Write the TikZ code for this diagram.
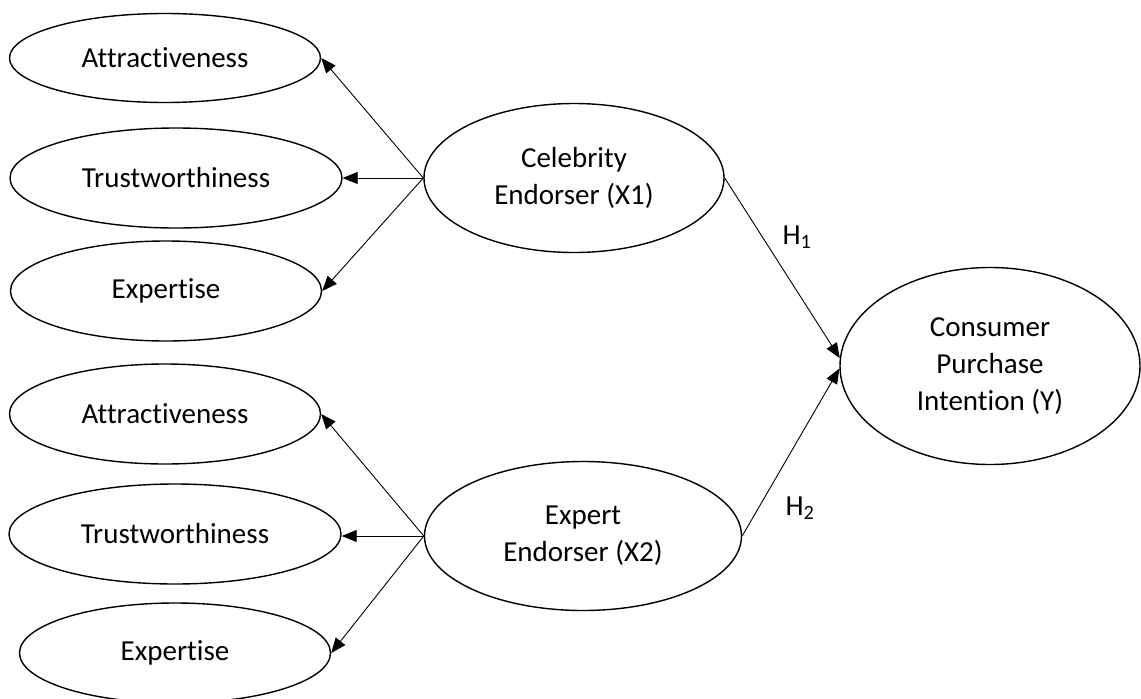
\documentclass[tikz,border=0pt]{standalone}
\usepackage{fontspec}
\setmainfont{Carlito}[Ligatures=NoCommon]
\usepackage{tikz}
\usetikzlibrary{shapes.geometric,arrows.meta}
\tikzstyle{e}=[line width=0.9pt,arrows={-Triangle[length=15pt,width=12pt]}]
\tikzstyle{n}=[ellipse,draw=black,line width=1.4pt,inner sep=0pt,align=center,font=\fontsize{29}{37}\selectfont]
\tikzstyle{item}=[n,minimum width=311pt,minimum height=100pt]
\tikzstyle{item-wide}=[n,minimum width=332pt,minimum height=100pt]
\tikzstyle{latent}=[n,minimum width=300pt,minimum height=149pt]
\tikzstyle{h}=[font=\fontsize{29}{37}\selectfont]

\begin{document}
\begin{tikzpicture}[x=1pt,y=-1pt]
\useasboundingbox (0,0) rectangle (1141,699);

% Nodes
\node[item,minimum height=89pt] (attractiveness 1)  at (165,58)  {Attractiveness};
\node[item-wide]                (trustworthiness 1) at (176,178) {Trustworthiness};
\node[item]                     (expertise 1)       at (166,291) {Expertise};
\node[item]                     (attractiveness 2)  at (165,414) {Attractiveness};
\node[item-wide]                (trustworthiness 2) at (175,534) {Trustworthiness};
\node[item]                     (expertise 2)       at (175,653) {Expertise};
\node[latent]                   (celebrity)         at (574,178) {Celebrity\\Endorser (X1)};
\node[latent,minimum width=317pt] (expert)          at (583,536) {Expert\\Endorser (X2)};
\node[latent,minimum height=197pt] (intention)      at (990,366) {Consumer\\Purchase\\Intention (Y)};
\node[h]                        (h1)                at (797,237) {H\textsubscript{1}};
\node[h]                        (h2)                at (800,508) {H\textsubscript{2}};

% Edges
\draw (celebrity.west) edge[e] (attractiveness 1.east)
      (celebrity.west) edge[e] (celebrity.west -| trustworthiness 1.east)
      (celebrity.west) edge[e] (expertise 1.east)
      (expert.west)    edge[e] (attractiveness 2.east)
      (expert.west)    edge[e] (expert.west -| trustworthiness 2.east)
      (expert.west)    edge[e] (expertise 2.east)
      (celebrity.east) edge[e] (intention.177)
      (expert.east)    edge[e] (intention.181);

\end{tikzpicture}
\end{document}
